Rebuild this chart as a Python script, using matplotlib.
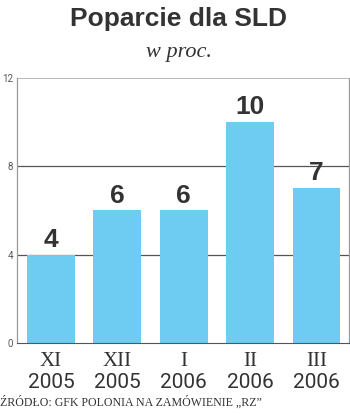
import matplotlib.pyplot as plt

months = ["XI", "XII", "I", "II", "III"]
years = ["2005", "2005", "2006", "2006", "2006"]
support = [4, 6, 6, 10, 7]
y_ticks = [0, 4, 8, 12]

bar_color = "#6ecbf1"
text_color = "#333333"

fig = plt.figure(figsize=(3.5, 4.15), dpi=100)
ax = fig.add_axes([0.049, 0.1735, 0.948, 0.6386])

xs = list(range(len(support)))
ax.bar(xs, support, width=0.72, color=bar_color, zorder=2)
for x, v in zip(xs, support):
    ax.text(x, v + 0.36, str(v), ha="center", va="baseline", fontsize=19,
            fontweight="bold", family="Liberation Sans", color=text_color)

ax.set_xlim(-0.51, 4.49)
ax.set_ylim(0, 12)
ax.set_yticks(y_ticks)
ax.set_yticklabels([str(t) for t in y_ticks], fontsize=7, family="Roboto",
                   color="#555555")
ax.tick_params(axis="y", length=0, pad=3)
for t in (4, 8):
    ax.axhline(t, color="#555555", lw=0.9, zorder=1)
ax.axhline(12, color="#aaaaaa", lw=1.2, zorder=1)

# two-line category labels: roman month numeral over the year
px_per_unit = 0.6386 * 415 / 12
ax.set_xticks(xs)
ax.set_xticklabels([])
ax.tick_params(axis="x", length=0)
for x, m, yr in zip(xs, months, years):
    ax.text(x, -23 / px_per_unit, m, ha="center", va="baseline", fontsize=15,
            family="Liberation Serif", color=text_color, clip_on=False)
    ax.text(x, -45 / px_per_unit, yr, ha="center", va="baseline", fontsize=15,
            family="Roboto", color=text_color, clip_on=False)

for side in ("left", "right"):
    ax.spines[side].set_color("#999999")
    ax.spines[side].set_linewidth(0.9)
ax.spines["top"].set_visible(False)
ax.spines["bottom"].set_color("#555555")

fig.text(0.511, 0.937, "Poparcie dla SLD", ha="center", va="baseline",
         fontsize=19, fontweight="bold", family="Liberation Sans",
         color=text_color)
fig.text(0.51, 0.863, "w proc.", ha="center", va="baseline", fontsize=16,
         style="italic", family="Liberation Serif", color=text_color)
fig.text(0.0, 0.022, "ŹRÓDŁO: GFK POLONIA NA ZAMÓWIENIE „RZ”", ha="left",
         va="baseline", fontsize=8.6, family="Liberation Serif",
         color=text_color)

fig.savefig("out.png", dpi=100)
